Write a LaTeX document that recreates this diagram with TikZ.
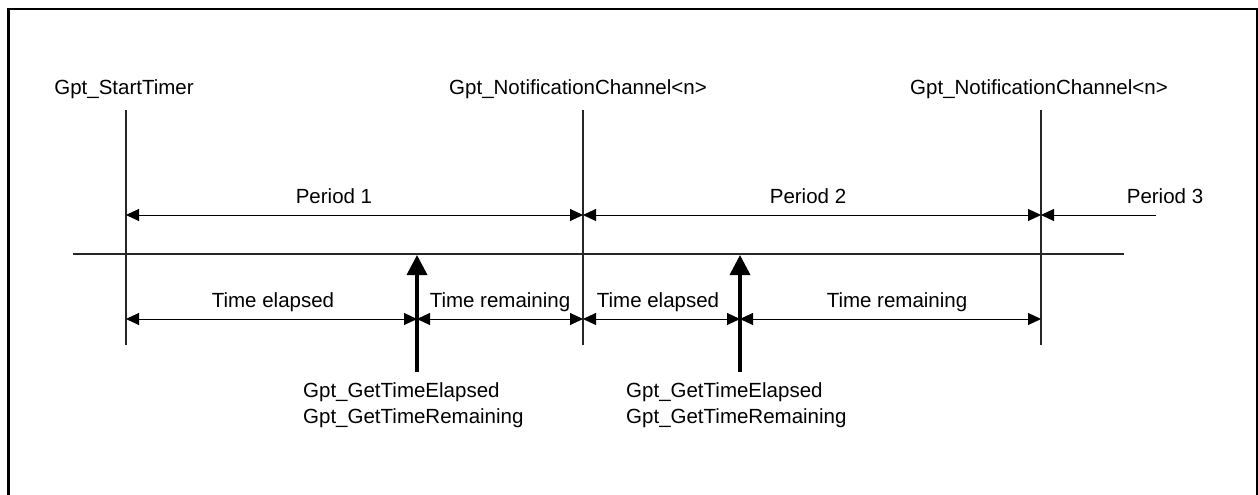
\documentclass[tikz,border=0pt]{standalone}
\usepackage{fontspec}
\setmainfont{Liberation Sans}
\usetikzlibrary{arrows.meta}

\begin{document}
\begin{tikzpicture}[x=1pt,y=-1pt,every node/.style={font=\fontsize{20.5}{26}\selectfont,inner sep=0pt,anchor=base},
 rule/.style={line width=1.1pt,black!85},
 span/.style={{Triangle[length=13pt,width=12pt]}-{Triangle[length=13pt,width=12pt]},line width=1pt},
 call/.style={-{Triangle[length=20pt,width=20pt]},line width=3.5pt}]
\useasboundingbox (0,0) rectangle (1258,495);
\draw[line width=2.5pt] (8.5,500)--(8.5,9)--(1257,9)--(1257,500);
% timer events
\node (start) at (124,95) {Gpt\_StartTimer};
\node (notif1) at (578,95) {Gpt\_NotificationChannel<n>};
\node (notif2) at (1039,95) {Gpt\_NotificationChannel<n>};
\coordinate (t0) at (126,110); \coordinate (t1) at (583,110); \coordinate (t2) at (1041,110);
\coordinate (b0) at (126,345); \coordinate (b1) at (583,345); \coordinate (b2) at (1041,345);
\draw[rule] (t0)--(b0); \draw[rule] (t1)--(b1); \draw[rule] (t2)--(b2);
% time axis
\coordinate (axL) at (73,254); \coordinate (axR) at (1124,254);
\draw[rule] (axL)--(axR);
% periods
\coordinate (p0) at (126,215); \coordinate (p1) at (583,215); \coordinate (p2) at (1041,215); \coordinate (p3) at (1156,215);
\draw[span] (p0)--(p1); \draw[span] (p1)--(p2);
\draw[-{Triangle[length=13pt,width=12pt]},line width=1pt] (p3)--(p2);
\node (per1) at (334,203) {Period 1};
\node (per2) at (808,203) {Period 2};
\node (per3) at (1165,203) {Period 3};
% elapsed / remaining
\coordinate (e0) at (126,319); \coordinate (e1) at (417,319); \coordinate (e2) at (583,319);
\coordinate (e3) at (740,319); \coordinate (e4) at (1041,319);
\draw[span] (e0)--(e1); \draw[span] (e1)--(e2); \draw[span] (e2)--(e3); \draw[span] (e3)--(e4);
\node (el1) at (273,307) {Time elapsed};
\node (rem1) at (500,307) {Time remaining};
\node (el2) at (658,307) {Time elapsed};
\node (rem2) at (897,307) {Time remaining};
% api calls
\coordinate (c1) at (417,372); \coordinate (a1) at (417,255);
\coordinate (c2) at (740,372); \coordinate (a2) at (740,255);
\draw[call] (c1)--(a1); \draw[call] (c2)--(a2);
\node[anchor=base west] (get1) at (303,397) {Gpt\_GetTimeElapsed};
\node[anchor=base west] (get1r) at (303,423) {Gpt\_GetTimeRemaining};
\node[anchor=base west] (get2) at (626,397) {Gpt\_GetTimeElapsed};
\node[anchor=base west] (get2r) at (626,423) {Gpt\_GetTimeRemaining};
\end{tikzpicture}
\end{document}
